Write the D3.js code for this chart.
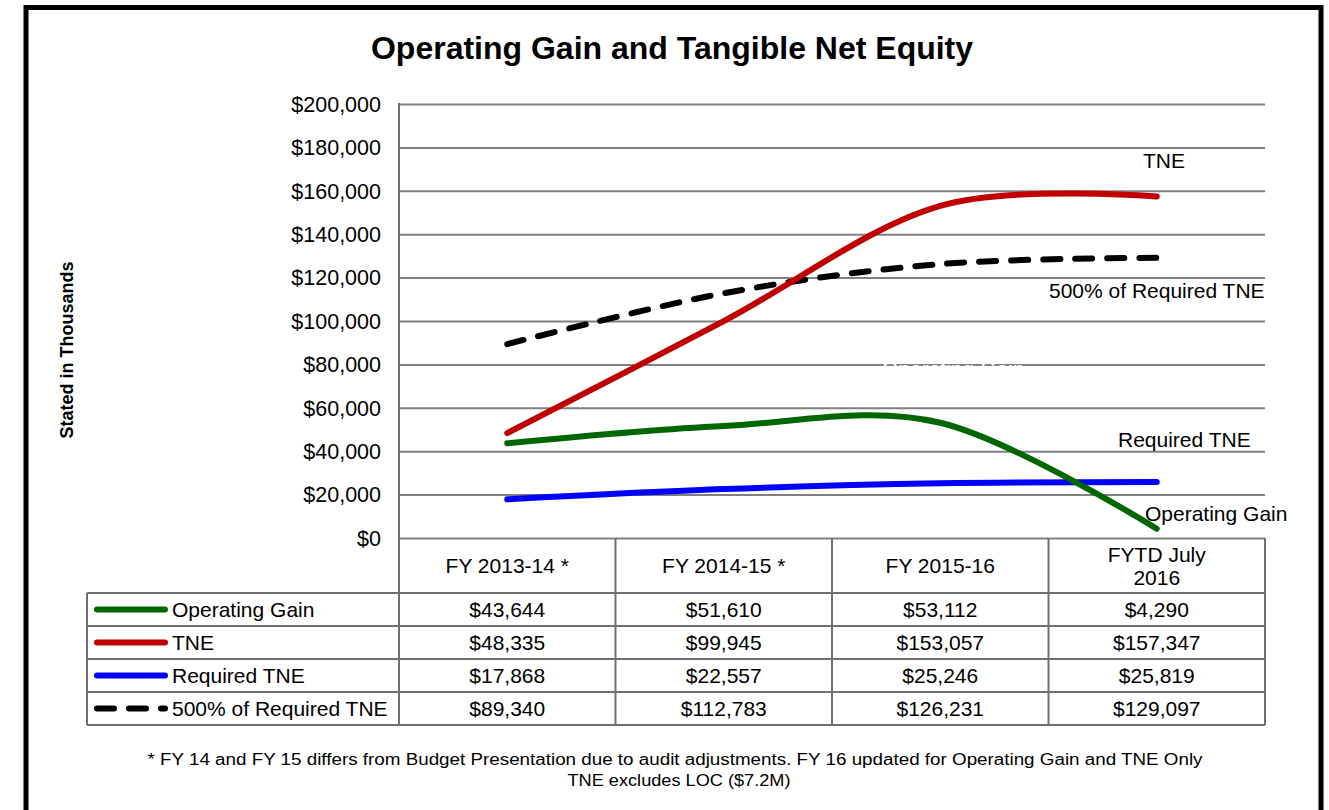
<!DOCTYPE html>
<html>
<head>
<meta charset="utf-8">
<script src="https://cdn.jsdelivr.net/npm/d3@7"></script>
<style>
  html, body { margin: 0; padding: 0; background: #fff; }
  svg { display: block; font-family: "Liberation Sans", Arial, sans-serif; }
</style>
</head>
<body>
<svg id="chart" width="1329" height="810"></svg>
<script>
// ---- data ----
const categories = ["FY 2013-14 *", "FY 2014-15 *", "FY 2015-16", "FYTD July\n2016"];
const seriesNames = ["Operating Gain", "TNE", "Required TNE", "500% of Required TNE"];
const operatingGain = [43644, 51610, 53112, 4290];
const tne = [48335, 99945, 153057, 157347];
const requiredTne = [17868, 22557, 25246, 25819];
const required500 = [89340, 112783, 126231, 129097];
const yTicks = [0, 20000, 40000, 60000, 80000, 100000, 120000, 140000, 160000, 180000, 200000];
const footnotes = [
  "* FY 14 and FY 15 differs from Budget Presentation due to audit adjustments.  FY 16 updated for Operating Gain and TNE Only",
  "TNE excludes LOC ($7.2M)"
];

const series = [
  { name: seriesNames[0], values: operatingGain, color: "#006600", dash: null },
  { name: seriesNames[1], values: tne, color: "#C00000", dash: null },
  { name: seriesNames[2], values: requiredTne, color: "#0000FF", dash: null },
  { name: seriesNames[3], values: required500, color: "#000000", dash: "17,15" }
];

// ---- layout ----
const svg = d3.select("#chart");
const plotL = 399, plotR = 1265, plotT = 104, plotB = 538;
const headerB = 593, rowH = 33, labelL = 87;
const gridColor = "#808080";

const x = d3.scaleBand().domain(categories).range([plotL, plotR]).padding(0);
const xc = c => x(c) + x.bandwidth() / 2;
const y = d3.scaleLinear().domain([0, 200000]).range([plotB, plotT]);
const fmt = v => "$" + d3.format(",")(v);

// outer border
svg.append("rect").attr("x", 26).attr("y", 7.5).attr("width", 1295).attr("height", 830)
  .attr("fill", "none").attr("stroke", "#000").attr("stroke-width", 5);

// title
svg.append("text").attr("x", 672).attr("y", 59).attr("text-anchor", "middle")
  .attr("font-size", 32).attr("font-weight", "bold").attr("fill", "#000")
  .text("Operating Gain and Tangible Net Equity");

// y-axis title
svg.append("text").attr("transform", "translate(73,350) rotate(-90)")
  .attr("text-anchor", "middle").attr("font-size", 18).attr("font-weight", "bold")
  .text("Stated in Thousands");

// y axis via d3 axis (gridlines + labels)
const yAxis = d3.axisLeft(y).tickValues(yTicks).tickSize(-(plotR - plotL)).tickFormat(fmt);
const gy = svg.append("g").attr("transform", `translate(${plotL},0)`).call(yAxis);
gy.select(".domain").remove();
gy.selectAll(".tick line").attr("stroke", gridColor).attr("stroke-width", 2);
gy.selectAll(".tick text").attr("x", -18).attr("dy", "0.34em")
  .attr("font-size", 21.5).attr("font-family", "Liberation Sans, Arial, sans-serif").attr("fill", "#000");

// faint white label hidden in chart (present in original)
svg.append("text").attr("x", 882).attr("y", 376).attr("font-size", 21).attr("fill", "#fff")
  .text("Operating Gain");

// ---- table ----
const tbl = svg.append("g").attr("stroke", "#707070").attr("stroke-width", 2).attr("fill", "none");
tbl.append("line").attr("x1", plotL).attr("x2", plotL).attr("y1", plotT - 1).attr("y2", headerB + rowH * 4);
categories.forEach(c => {
  tbl.append("line").attr("x1", x(c) + x.bandwidth()).attr("x2", x(c) + x.bandwidth())
    .attr("y1", plotB).attr("y2", headerB + rowH * 4);
});
for (let i = 0; i <= 4; i++) {
  const yy = headerB + rowH * i;
  tbl.append("line").attr("x1", labelL).attr("x2", plotR).attr("y1", yy).attr("y2", yy);
}
tbl.append("line").attr("x1", labelL).attr("x2", labelL).attr("y1", headerB).attr("y2", headerB + rowH * 4);

// header labels
categories.forEach(c => {
  const lines = c.split("\n");
  const t = svg.append("text").attr("text-anchor", "middle").attr("font-size", 21).attr("fill", "#000");
  if (lines.length === 1) {
    t.append("tspan").attr("x", xc(c)).attr("y", 573).text(lines[0]);
  } else {
    t.append("tspan").attr("x", xc(c)).attr("y", 562).text(lines[0]);
    t.append("tspan").attr("x", xc(c)).attr("y", 585).text(lines[1]);
  }
});

// rows
series.forEach((s, i) => {
  const cy = headerB + rowH * i + rowH / 2;
  svg.append("line").attr("x1", 97).attr("x2", 165).attr("y1", cy).attr("y2", cy)
    .attr("stroke", s.color).attr("stroke-width", 6).attr("stroke-linecap", "round")
    .attr("stroke-dasharray", s.dash);
  svg.append("text").attr("x", 172).attr("y", cy + 7.5).attr("font-size", 21).text(s.name);
  s.values.forEach((v, j) => {
    svg.append("text").attr("x", xc(categories[j])).attr("y", cy + 7.5)
      .attr("text-anchor", "middle").attr("font-size", 21).text(fmt(v));
  });
});

// ---- lines ----
const line = d3.line().x((d, i) => xc(categories[i])).y(d => y(d)).curve(d3.curveCardinal.tension(0));
[series[3], series[2], series[0], series[1]].forEach(s => {
  svg.append("path").datum(s.values).attr("d", line)
    .attr("fill", "none").attr("stroke", s.color).attr("stroke-width", 6)
    .attr("stroke-linecap", "round").attr("stroke-linejoin", "round")
    .attr("stroke-dasharray", s.dash);
});

// series labels
const labels = [
  { text: "TNE", x: 1143, y: 168 },
  { text: "500% of Required TNE", x: 1049, y: 298 },
  { text: "Required TNE", x: 1118, y: 447 },
  { text: "Operating Gain", x: 1145, y: 521 }
];
labels.forEach(l => {
  svg.append("text").attr("x", l.x).attr("y", l.y).attr("font-size", 21).attr("fill", "#000").text(l.text);
});

// footnotes
svg.append("text").attr("x", 675).attr("y", 765).attr("text-anchor", "middle").attr("font-size", 16)
  .attr("textLength", 1055).attr("lengthAdjust", "spacingAndGlyphs").text(footnotes[0]);
svg.append("text").attr("x", 679).attr("y", 786).attr("text-anchor", "middle").attr("font-size", 16)
  .attr("textLength", 223).attr("lengthAdjust", "spacingAndGlyphs").text(footnotes[1]);
</script>
</body>
</html>
